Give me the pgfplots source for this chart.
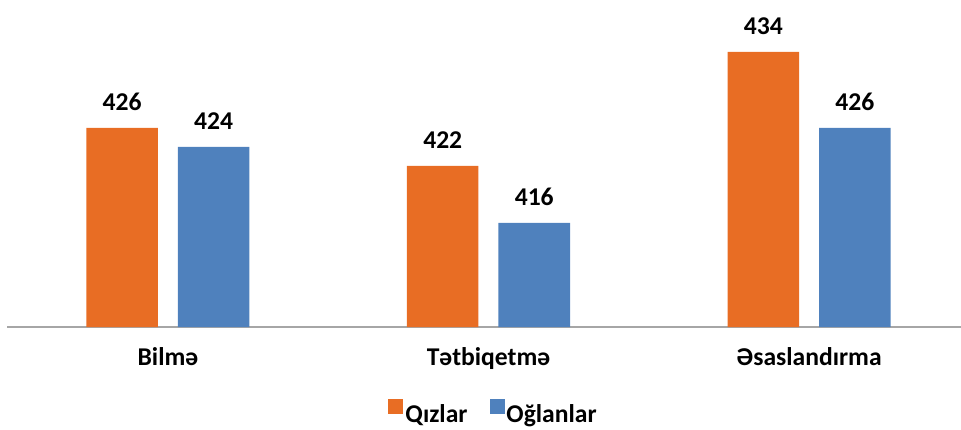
\documentclass[border=0pt]{standalone}
\usepackage{pgfplots}
\pgfplotsset{compat=1.18}
\usepackage{fontspec}
\setmainfont{Carlito}
\definecolor{qorange}{HTML}{E86D24}
\definecolor{qblue}{HTML}{4F81BD}
\definecolor{axgray}{HTML}{A6A6A6}
\begin{document}
\begin{tikzpicture}[x=1bp,y=1bp]
\useasboundingbox (0,0) rectangle (961,429);
\begin{axis}[
  at={(7bp,102bp)}, anchor=south west,
  scale only axis, width=954bp, height=327bp,
  ybar=20bp, bar width=71.5bp,
  xmin=-0.502, xmax=2.474,
  ymin=405.05, ymax=439.47,
  axis x line*=bottom, axis y line=none,
  x axis line style={draw=axgray, line width=1.6bp},
  xtick={0,1,2},
  xticklabels={Bilmə, Tətbiqetmə, Əsaslandırma},
  xtick style={draw=none},
  xticklabel style={font=\fontsize{25.6bp}{30bp}\selectfont\bfseries, yshift=-13bp},
  nodes near coords,
  /pgf/number format/assume math mode=true,
  nodes near coords style={font=\fontsize{25.6bp}{30bp}\selectfont\bfseries, inner sep=0pt, anchor=south, yshift=17bp},
  legend style={at={(0.51,-0.262)}, anchor=center, draw=none, legend columns=2,
    font=\fontsize{25.6bp}{30bp}\selectfont\bfseries,
    /tikz/every even column/.append style={column sep=20bp}},
  legend image code/.code={\fill[#1] (0bp,0bp) rectangle (15bp,15bp);},
]
\addplot[fill=qorange, draw=none] coordinates {(0,426) (1,422) (2,434)};
\addplot[fill=qblue, draw=none] coordinates {(0,424) (1,416) (2,426)};
\legend{Qızlar, Oğlanlar}
\end{axis}
\end{tikzpicture}
\end{document}
